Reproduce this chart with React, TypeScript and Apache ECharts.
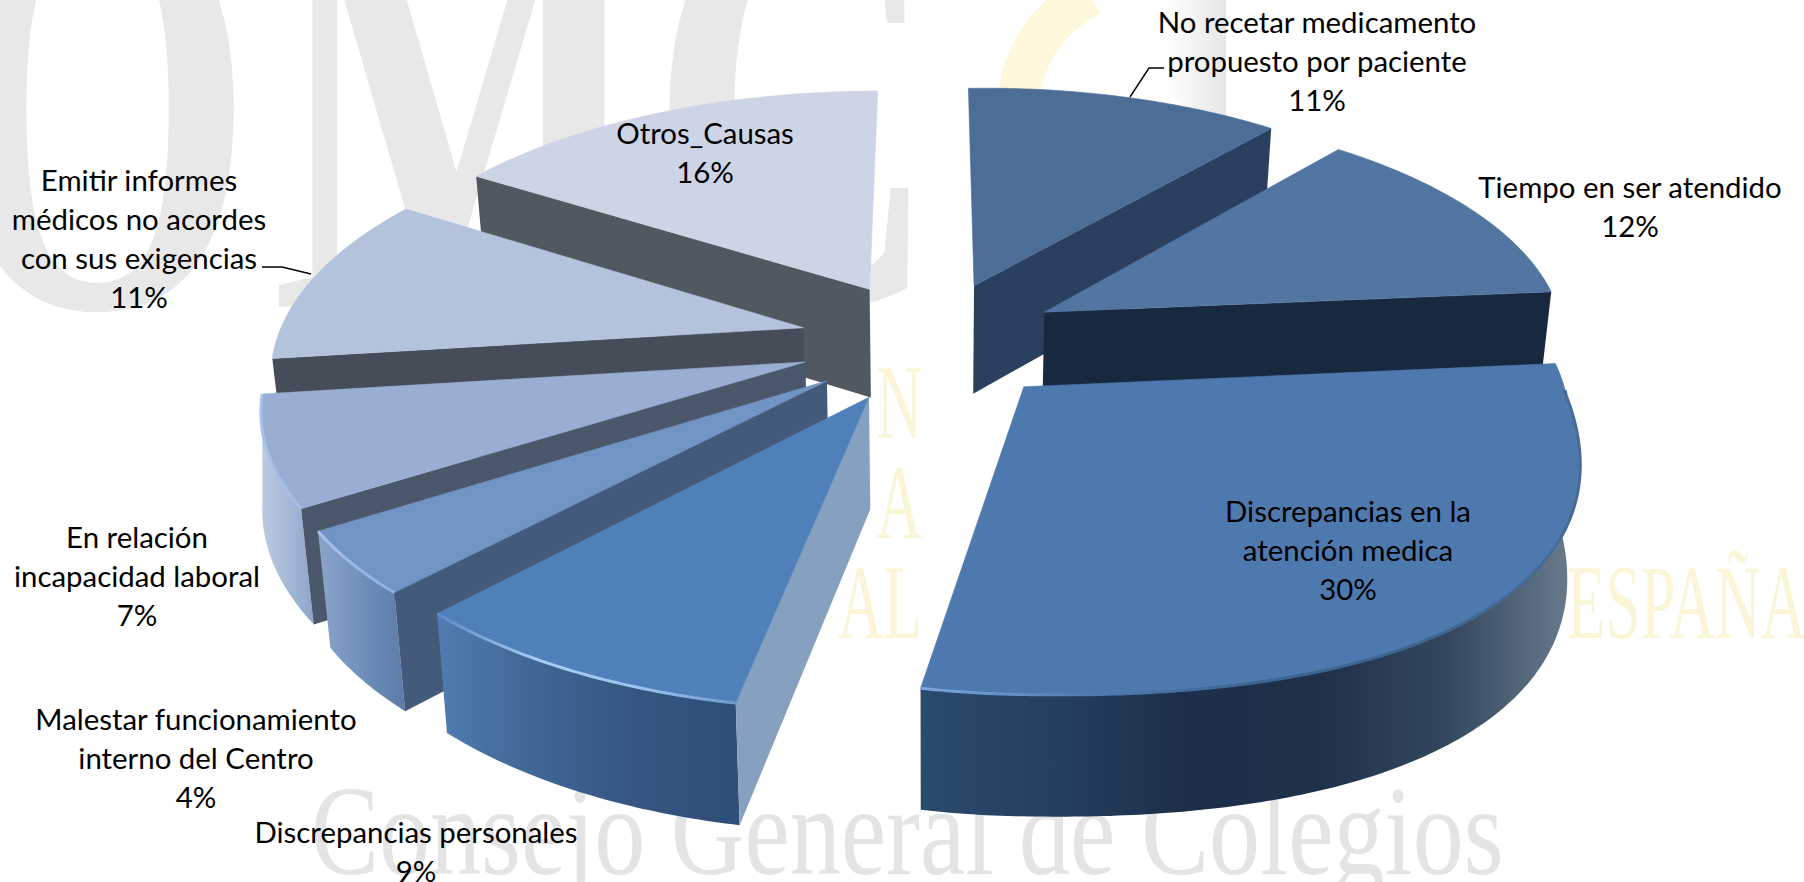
import React, { useEffect, useRef } from "react";
import * as echarts from "echarts";

const categories = [
  "No recetar medicamento\npropuesto por paciente",
  "Tiempo en ser atendido",
  "Discrepancias en la\natención medica",
  "Discrepancias personales",
  "Malestar funcionamiento\ninterno del Centro",
  "En relación\nincapacidad laboral",
  "Emitir informes\nmédicos no acordes\ncon sus exigencias",
  "Otros_Causas",
];
const values = [11, 12, 30, 9, 4, 7, 11, 16];

const topColors = ["#4c6e96", "#5275a1", "#4e79ae", "#5080b9", "#7194c4", "#99aed2", "#b3c3dc", "#ccd4e6"];
const cutColors = ["#2a405e", "#18283f", "#18283f", "#86a0bf", "#445a7a", "#4b586b", "#464c58", "#52585f"];
const rimStops: (string[] | null)[] = [
  null,
  null,
  ["#2a4a6e", "#24405f", "#1d2f49", "#1f3049", "#33485f", "#6d7f90"],
  ["#507cb0", "#3f6694", "#34557f", "#2f4f78"],
  ["#8ba5ca", "#7090bb", "#5c7ca8"],
  ["#bccbe1", "#a6b9d6", "#8ea6cb"],
  null,
  null,
];
const bevelStops: (string[] | null)[] = [
  null,
  null,
  ["#7ba6de", "#4f7cb2", "#3d6593", "#3f6590", "#4a6c94"],
  ["#5b8ac4", "#a8cdf4", "#9cc4ee", "#6f9bd0"],
  ["#a4c0ea", "#8cb0e0"],
  ["#a9c2ea", "#a5bde6"],
  null,
  null,
];
const paintOrder = [0, 7, 1, 6, 5, 4, 2, 3];
const labelCenters = [
  [1317, 60],
  [1630, 206],
  [1348, 549],
  [416, 851],
  [196, 757],
  [137, 575],
  [139, 238],
  [705, 152],
];
const leaderLines: (number[][] | null)[] = [
  [[1130, 97], [1149, 68], [1164, 68]],
  null, null, null, null, null,
  [[262, 267], [282, 267], [311, 274]],
  null,
];

const starts: number[] = [];
values.reduce((sum, v, i) => {
  starts[i] = sum;
  return sum + v;
}, 0);
const total = values.reduce((a, b) => a + b, 0);

const CX = 931, CY = 341, RX = 527, RY = 244, PERSP = 0.156, EXPLODE = 0.25;
const DEG = Math.PI / 180;

function project(X: number, Y: number) {
  const s = 1 / (1 - PERSP * Y);
  return [CX + RX * X * s, CY + RY * Y * s, s];
}
function lower(p: number[], pull = 0.98) {
  return [CX + (p[0] - CX) * pull, p[1] + 110 * Math.sqrt(p[2])];
}
function stopsOf(cols: string[]) {
  return cols.map((color, i) => ({ offset: i / (cols.length - 1), color }));
}
function bulge(deg: number) {
  if (deg > 0 && deg < 90) return 1 + 0.045 * Math.sin(2 * deg * DEG);
  if (deg >= 90 && deg < 180) return 1 + 0.04 * Math.pow(Math.sin(2 * deg * DEG), 2);
  return 1;
}

function renderItem(params: any, api: any) {
  const i = params.dataIndex;
  const value = api.value(0);
  const from = (api.value(1) / total) * 360;
  const to = ((api.value(1) + value) / total) * 360;
  const mid = ((from + to) / 2) * DEG;
  const ox = EXPLODE * Math.sin(mid);
  const oy = -EXPLODE * Math.cos(mid);
  const apex = project(ox, oy);
  const at = (deg: number) => {
    const r = bulge(deg);
    const p = project(ox + r * Math.sin(deg * DEG), oy - r * Math.cos(deg * DEG));
    if (deg < 180) p[1] += 9 * Math.sin(deg * DEG);
    return p;
  };
  const n = Math.max(8, Math.ceil((to - from) * 1.5));
  const rim: number[][] = [];
  for (let k = 0; k <= n; k++) rim.push(at(from + ((to - from) * k) / n));
  const z = paintOrder.indexOf(i) * 10 + 1;
  const xy = (p: number[]) => [p[0], p[1]];
  const children: any[] = [];

  const stops = rimStops[i];
  if (stops) {
    const lowerRim = rim.map((p, k) => lower(p, i === 5 ? 0.98 + (0.02 * k) / n : 0.98));
    children.push({
      type: "polygon",
      z2: z,
      shape: { points: [...rim.map(xy), ...lowerRim.reverse()] },
      style: { fill: new echarts.graphic.LinearGradient(0, 0, 1, 0, stopsOf(stops)) },
    });
  }
  const cutRim = i <= 2 ? rim[rim.length - 1] : rim[0];
  if (i !== 2) {
    children.push({
      type: "polygon",
      z2: z + 1,
      shape: { points: [xy(apex), xy(cutRim), lower(cutRim), lower(apex)] },
      style: { fill: cutColors[i] },
    });
  }
  children.push({
    type: "polygon",
    z2: z + 2,
    shape: { points: [xy(apex), ...rim.map(xy)] },
    style: { fill: topColors[i], stroke: topColors[i], lineWidth: 0.6 },
  });
  const bevel = bevelStops[i];
  if (bevel) {
    const visible = i === 2 ? rim.slice(Math.floor(n * 0.06)) : rim;
    children.push({
      type: "polyline",
      z2: z + 3,
      shape: { points: visible.map(xy) },
      style: {
        fill: "none",
        stroke: new echarts.graphic.LinearGradient(0, 0, 1, 0, stopsOf(bevel)),
        lineWidth: 3,
      },
    });
  }
  const line = leaderLines[i];
  if (line) {
    children.push({
      type: "polyline",
      z2: 200,
      shape: { points: line },
      style: { fill: "none", stroke: "#000000", lineWidth: 1.4 },
    });
  }
  children.push({
    type: "text",
    z2: 201,
    x: labelCenters[i][0],
    y: labelCenters[i][1],
    style: {
      text: `${categories[i]}\n${value}%`,
      fill: "#000000",
      font: "29.4px Lato",
      lineHeight: 39,
      align: "center",
      verticalAlign: "middle",
    },
  });
  return { type: "group", children };
}

const watermark = (text: string, x: number, y: number, size: number, fill: string, scaleX: number, scaleY: number, weight = "normal", align = "left") => ({
  type: "text",
  x,
  y,
  scaleX,
  scaleY,
  z: -1,
  style: {
    text,
    fill,
    font: `${weight} ${size}px "Liberation Serif"`,
    textAlign: align,
    textVerticalAlign: "bottom",
  },
});

export default function App() {
  const ref = useRef<HTMLDivElement>(null);
  useEffect(() => {
    const chart = echarts.init(ref.current!, undefined, { renderer: "svg" });
    chart.setOption({
      animation: false,
      backgroundColor: "#ffffff",
      graphic: [
        watermark("O", -58, 404, 400, "#e8e8e8", 1, 1.5, "bold"),
        watermark("M", 272, 404, 400, "#e8e8e8", 1, 1.5, "bold"),
        watermark("C", 650, 404, 400, "#e8e8e8", 1, 1.5, "bold"),
        {
          type: "polygon",
          z: -1,
          shape: { points: [[1165, 0], [1226, 0], [1226, 140], [1165, 90]] },
          style: {
            fill: new echarts.graphic.LinearGradient(0, 0, 1, 0, [
              { offset: 0, color: "#ffffff" },
              { offset: 1, color: "#e6e6e6" },
            ]),
          },
        },
        {
          type: "bezierCurve",
          z: -1,
          shape: { x1: 1018, y1: 105, cpx1: 1022, cpy1: 55, cpx2: 1045, cpy2: 20, x2: 1090, y2: -5 },
          style: { stroke: "#fdf7dc", lineWidth: 42, fill: "none" },
        },
        watermark("Consejo General de Colegios", 311, 895, 128, "#e4e4e4", 0.797, 1),
        watermark("N", 922, 455, 105, "#fbf5d8", 0.6, 1, "normal", "right"),
        watermark("A", 922, 555, 105, "#fbf5d8", 0.6, 1, "normal", "right"),
        watermark("AL", 922, 655, 105, "#fbf5d8", 0.6, 1, "normal", "right"),
        watermark("ESPAÑA", 1567, 655, 105, "#fbf5d8", 0.6, 1),
      ],
      series: [
        {
          type: "custom",
          coordinateSystem: "none",
          renderItem,
          data: values.map((v, i) => [v, starts[i]]),
          silent: true,
        },
      ],
    });
    return () => chart.dispose();
  }, []);
  return <div ref={ref} style={{ position: "fixed", left: 0, top: 0, width: 1804, height: 882 }} />;
}
